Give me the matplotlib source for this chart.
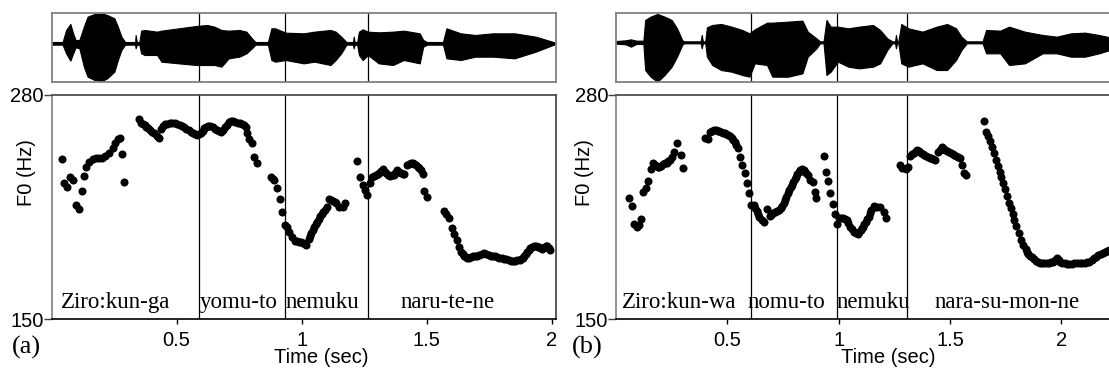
import matplotlib
matplotlib.use("Agg")
import matplotlib.pyplot as plt

# ---------------- data: panel (a) ----------------
f0_time_a = [0.041, 0.051, 0.061, 0.072, 0.084, 0.098, 0.111, 0.121, 0.131, 0.139, 0.151, 0.165,
             0.179, 0.190, 0.201, 0.215, 0.229, 0.244, 0.255, 0.265, 0.272, 0.282, 0.291,
             0.351, 0.358, 0.365, 0.372, 0.379, 0.386, 0.394, 0.402, 0.411, 0.420, 0.429, 0.439,
             0.446, 0.454, 0.463, 0.472, 0.483, 0.494, 0.503, 0.512, 0.520, 0.529, 0.538, 0.548,
             0.556, 0.565, 0.574, 0.582, 0.590, 0.598, 0.604, 0.611, 0.618, 0.625, 0.634, 0.644,
             0.653, 0.662, 0.670, 0.679, 0.686, 0.694, 0.702, 0.711, 0.718, 0.725, 0.734, 0.744,
             0.753, 0.762, 0.769, 0.776, 0.782, 0.789, 0.801, 0.811, 0.822,
             0.876, 0.884, 0.891, 0.901, 0.912, 0.922, 0.932, 0.941, 0.951, 0.962, 0.974, 0.981,
             0.988, 0.996, 1.005, 1.012, 1.019, 1.028, 1.034, 1.039, 1.045, 1.051, 1.057, 1.062,
             1.069, 1.075, 1.081, 1.086, 1.094, 1.101, 1.111, 1.118, 1.125, 1.132, 1.139, 1.151,
             1.165, 1.174,
             1.222, 1.234, 1.244, 1.254, 1.262, 1.272, 1.282, 1.289, 1.296, 1.304, 1.311, 1.318,
             1.325, 1.332, 1.339, 1.346, 1.354, 1.361, 1.368, 1.375, 1.382, 1.389, 1.396, 1.404,
             1.411, 1.422, 1.429, 1.436, 1.444, 1.451, 1.458, 1.465, 1.471, 1.476, 1.484, 1.491,
             1.501,
             1.569, 1.579, 1.591, 1.601, 1.611, 1.622, 1.631, 1.639, 1.645, 1.651, 1.656, 1.662,
             1.669, 1.676, 1.685, 1.694, 1.702, 1.711, 1.720, 1.729, 1.738, 1.748, 1.756, 1.765,
             1.773, 1.782, 1.791, 1.801, 1.810, 1.819, 1.828, 1.836, 1.845, 1.854, 1.863, 1.872,
             1.879, 1.886, 1.891, 1.896, 1.902, 1.908, 1.915, 1.922, 1.929, 1.936, 1.944, 1.951,
             1.957, 1.962, 1.967, 1.972, 1.977, 1.982, 1.988, 1.994]
f0_hz_a = [242.8, 228.7, 226.4, 232.2, 230.7, 216.1, 213.6, 224.5, 233.0, 238.0, 241.3, 242.8,
           243.2, 243.3, 243.2, 244.6, 246.5, 249.0, 251.9, 254.3, 255.2, 245.6, 229.5,
           265.9, 264.0, 263.0, 262.3, 261.6, 260.7, 259.7, 258.7, 257.7, 256.3, 254.8, 260.1,
           261.8, 263.0, 263.4, 263.6, 263.6, 263.6, 263.2, 262.6, 262.0, 261.2, 260.5, 259.7,
           258.7, 257.7, 257.2, 256.8, 257.1, 257.7, 259.0, 260.6, 261.3, 262.0, 261.8, 261.2,
           260.4, 259.7, 259.2, 258.7, 259.9, 261.2, 262.8, 264.3, 264.8, 265.1, 264.6, 263.9,
           263.5, 263.2, 262.4, 261.6, 257.7, 254.3, 251.9, 244.2, 240.7,
           232.2, 231.5, 230.7, 225.8, 219.4, 212.3, 204.5, 203.2, 200.7, 197.8, 195.4, 195.1,
           194.9, 194.4, 193.9, 193.4, 192.9, 196.2, 198.0, 199.7, 201.6, 203.6, 205.0, 206.5,
           208.2, 209.8, 211.0, 212.3, 213.5, 214.8, 219.4, 219.0, 218.5, 217.8, 217.1, 215.2,
           214.8, 217.1,
           241.9, 232.2, 227.8, 224.9, 221.9, 228.7, 232.2, 232.9, 233.6, 234.2, 234.9, 235.8,
           236.8, 235.6, 234.5, 233.7, 233.0, 233.3, 233.6, 235.0, 236.5, 235.5, 234.5, 234.3,
           234.1, 239.4, 240.1, 240.7, 240.3, 239.9, 239.2, 238.4, 237.5, 236.5, 234.1, 224.5,
           220.6,
           212.9, 210.9, 208.4, 202.6, 199.3, 195.8, 192.0, 189.1, 187.8, 186.5, 185.8, 185.2,
           185.6, 186.1, 186.3, 186.5, 186.8, 187.1, 187.6, 188.1, 187.6, 187.1, 186.8, 186.5,
           186.3, 186.1, 185.6, 185.2, 184.9, 184.6, 184.2, 183.8, 183.8, 183.8, 184.0, 184.2,
           184.7, 185.2, 186.4, 187.7, 188.9, 190.0, 191.0, 192.0, 192.2, 192.3, 192.0, 191.6,
           191.0, 190.4, 191.2, 192.0, 192.2, 192.3, 191.2, 190.0]

# waveform envelope, panel (a) (arbitrary amplitude units)
wave_time_a = [0.000, 0.044, 0.058, 0.075, 0.086, 0.096, 0.111, 0.129, 0.144, 0.172, 0.201,
               0.222, 0.251, 0.265, 0.279, 0.294, 0.334, 0.336, 0.341, 0.351, 0.358, 0.372,
               0.422, 0.439, 0.508, 0.579, 0.622, 0.651, 0.679, 0.708, 0.751, 0.779, 0.801,
               0.815, 0.865, 0.879, 0.894, 0.936, 1.008, 1.051, 1.115, 1.136, 1.158, 1.179,
               1.205, 1.208, 1.212, 1.222, 1.229, 1.244, 1.265, 1.308, 1.365, 1.408, 1.472,
               1.486, 1.501, 1.565, 1.579, 1.636, 1.694, 1.765, 1.851, 1.936, 2.015]
wave_top_a = [4, 4, 40, 58, 30, 10, 10, 50, 80, 88, 90,
              85, 75, 50, 20, 4, 4, 25, 4, 4, 38, 40,
              35, 38, 45, 52, 55, 50, 40, 38, 40, 35, 15,
              4, 4, 45, 45, 32, 30, 35, 40, 35, 20, 4,
              4, 20, 4, 4, 35, 42, 35, 33, 35, 38, 30,
              10, 4, 4, 45, 30, 25, 30, 30, 20, 2]
wave_bot_a = [-4, -4, -30, -52, -30, -12, -15, -70, -100, -110, -113,
              -105, -85, -50, -20, -4, -4, -15, -4, -4, -30, -35,
              -35, -55, -60, -65, -65, -65, -70, -45, -40, -30, -15,
              -4, -4, -50, -55, -50, -60, -55, -65, -50, -30, -4,
              -4, -15, -4, -4, -35, -50, -35, -60, -65, -50, -60,
              -10, -4, -4, -45, -50, -40, -40, -45, -25, -2]
bounds_a = [0.591, 0.932, 1.264]
labels_a = ["Ziro:kun-ga", "yomu-to", "nemuku", "naru-te-ne"]
label_x_a = [0.038, 0.594, 0.936, 1.394]

# ---------------- data: panel (b) ----------------
f0_time_b = [0.059, 0.070, 0.082, 0.093, 0.102, 0.112, 0.123, 0.134, 0.143, 0.155, 0.167, 0.175,
             0.182, 0.188, 0.194, 0.202, 0.210, 0.219, 0.228, 0.235, 0.242, 0.253, 0.262, 0.275,
             0.290, 0.302,
             0.400, 0.411, 0.424, 0.432, 0.440, 0.448, 0.456, 0.464, 0.472, 0.480, 0.488, 0.496,
             0.504, 0.512, 0.519, 0.527, 0.535, 0.541, 0.547, 0.556, 0.567, 0.578, 0.588, 0.597,
             0.607, 0.618, 0.625, 0.631, 0.637, 0.643, 0.654, 0.665, 0.677, 0.690, 0.698, 0.706,
             0.714, 0.722, 0.730, 0.739, 0.746, 0.754, 0.760, 0.765, 0.771, 0.778, 0.784, 0.789,
             0.796, 0.802, 0.808, 0.813, 0.820, 0.826, 0.832, 0.837, 0.843, 0.849, 0.855, 0.861,
             0.872, 0.885, 0.893, 0.900,
             0.932, 0.943, 0.951, 0.963, 0.973, 0.984, 0.992, 1.003, 1.011, 1.019, 1.027, 1.035,
             1.043, 1.051, 1.059, 1.067, 1.076, 1.086, 1.092, 1.098, 1.103, 1.108, 1.115, 1.122,
             1.128, 1.134, 1.140, 1.146, 1.157, 1.165, 1.173, 1.186, 1.202, 1.213,
             1.273, 1.286, 1.300, 1.313, 1.321, 1.329, 1.337, 1.345, 1.353, 1.361, 1.369, 1.377,
             1.384, 1.392, 1.400, 1.408, 1.416, 1.424, 1.432, 1.448, 1.455, 1.463, 1.471, 1.479,
             1.487, 1.495, 1.503, 1.511, 1.519, 1.527, 1.535, 1.543, 1.554, 1.564, 1.572,
             1.654, 1.662, 1.669, 1.681, 1.690, 1.698, 1.706, 1.714, 1.722, 1.730, 1.738, 1.746,
             1.754, 1.764, 1.773, 1.781, 1.789, 1.797, 1.808, 1.817, 1.829, 1.840, 1.846, 1.852,
             1.860, 1.868, 1.876, 1.884, 1.893, 1.903, 1.913, 1.924, 1.934, 1.944, 1.954, 1.963,
             1.971, 1.979, 1.987, 1.995, 2.004, 2.014, 2.024, 2.035, 2.046, 2.058, 2.070, 2.082,
             2.094, 2.106, 2.115, 2.125, 2.136, 2.146, 2.156, 2.166, 2.176, 2.186, 2.195, 2.205,
             2.214]
f0_hz_b = [220.0, 215.8, 205.1, 203.2, 204.5, 207.8, 223.9, 225.8, 230.3, 236.8, 240.3, 239.6,
           238.8, 238.4, 238.0, 238.9, 239.9, 240.3, 240.7, 241.5, 242.3, 244.2, 247.1, 251.9,
           245.2, 237.4,
           255.2, 254.3, 258.7, 259.2, 259.7, 259.5, 259.3, 259.0, 258.7, 258.2, 257.7, 257.2,
           256.8, 256.0, 255.2, 254.0, 252.9, 251.0, 249.0, 244.2, 239.4, 234.5, 229.1, 223.3,
           216.1, 216.1, 214.5, 212.9, 211.1, 209.4, 207.4, 206.5, 213.6, 209.8, 210.5, 211.3,
           212.1, 212.9, 213.5, 214.2, 215.6, 217.1, 219.0, 221.0, 223.0, 224.9, 226.4, 227.8,
           229.4, 231.0, 232.5, 234.1, 235.3, 236.5, 236.7, 236.8, 236.2, 235.5, 234.5, 233.6,
           230.7, 229.7, 223.9, 220.0,
           244.6, 235.5, 230.3, 223.3, 216.7, 210.9, 205.1, 208.4, 208.4, 208.4, 207.9, 207.4,
           205.5, 203.6, 202.2, 200.7, 200.0, 199.3, 200.5, 201.6, 202.6, 203.6, 205.0, 206.5,
           208.0, 209.4, 211.3, 213.2, 215.6, 215.2, 214.8, 215.2, 212.3, 208.4,
           239.4, 237.4, 236.8, 238.4, 244.6, 245.5, 246.5, 247.3, 248.1, 247.3, 246.5, 245.8,
           245.2, 244.7, 244.2, 243.7, 243.2, 242.8, 242.3, 247.1, 248.3, 249.6, 248.9, 248.1,
           247.6, 247.1, 246.4, 245.7, 245.2, 244.6, 243.9, 243.2, 239.4, 234.9, 233.6,
           265.1, 258.7, 256.2, 253.5, 249.6, 246.1, 242.3, 238.8, 235.5, 232.2, 228.7, 225.2,
           221.4, 217.5, 214.2, 210.9, 207.4, 204.0, 200.1, 195.8, 192.9, 190.4, 189.0, 187.7,
           186.7, 185.8, 184.8, 183.8, 183.0, 182.3, 182.3, 182.3, 182.5, 182.7, 183.0, 183.2,
           184.2, 185.2, 184.2, 183.2, 182.7, 182.3, 182.1, 181.9, 182.1, 182.3, 182.3, 182.3,
           182.5, 182.7, 183.0, 183.2, 184.2, 185.2, 186.2, 187.1, 187.8, 188.5, 189.1, 189.6,
           190.2]

wave_time_b = [0.000, 0.043, 0.067, 0.091, 0.123, 0.131, 0.155, 0.186, 0.218, 0.250, 0.274,
               0.297, 0.305, 0.380, 0.385, 0.390, 0.401, 0.408, 0.432, 0.472, 0.519, 0.567,
               0.599, 0.623, 0.678, 0.702, 0.773, 0.837, 0.861, 0.900, 0.916, 0.932, 0.945,
               0.964, 0.996, 1.043, 1.091, 1.154, 1.186, 1.218, 1.241, 1.253, 1.257, 1.262,
               1.268, 1.281, 1.313, 1.376, 1.440, 1.487, 1.527, 1.551, 1.575, 1.646, 1.662,
               1.725, 1.765, 1.836, 1.916, 1.979, 2.043, 2.106, 2.169, 2.217, 2.290]
wave_top_b = [4, 6, 9, 5, 5, 67, 77, 85, 77, 67, 42,
              7, 3, 3, 22, 3, 3, 45, 52, 55, 47, 37,
              27, 39, 59, 59, 62, 65, 32, 12, 3, 3, 67,
              47, 47, 42, 47, 52, 37, 12, 3, 3, 22, 3,
              3, 55, 42, 32, 47, 55, 42, 17, 3, 3, 37,
              35, 47, 32, 22, 17, 27, 29, 22, 15, 2]
wave_bot_b = [-4, -6, -13, -5, -5, -83, -103, -118, -98, -73, -43,
              -8, -3, -3, -18, -3, -3, -43, -68, -83, -88, -98,
              -103, -63, -68, -103, -103, -93, -43, -18, -3, -3, -98,
              -88, -58, -73, -78, -73, -63, -23, -3, -3, -18, -3,
              -3, -63, -73, -63, -83, -83, -53, -23, -3, -3, -33,
              -33, -68, -63, -33, -33, -43, -43, -33, -23, -2]
bounds_b = [0.608, 0.994, 1.308]
labels_b = ["Ziro:kun-wa", "nomu-to", "nemuku", "nara-su-mon-ne"]
label_x_b = [0.027, 0.591, 0.988, 1.432]

xticks = [0.5, 1, 1.5, 2]
xtick_labels = ["0.5", "1", "1.5", "2"]
yticks = [150, 280]
f0_range = (150, 280)

# ---------------- figure ----------------
W, H = 1109, 371
fig = plt.figure(figsize=(W / 100, H / 100), dpi=100)

sans = "Liberation Sans"
serif = "Liberation Serif"
GREY = "#808080"
FS_SANS = 14.5
FS_SERIF = 16.5


def px_axes(left, right, top, bottom):
    return fig.add_axes([left / W, 1 - bottom / H, (right - left) / W, (bottom - top) / H])


def panel(left, right, xmax, wt, wtop, wbot, wylim, ft, fhz, bounds, labels, lab_x,
          tag, tag_x, ylabel_dx, xlabel_t):
    # waveform
    axw = px_axes(left, right, 13.3, 81.7)
    axw.fill_between(wt, wbot, wtop, color="black", linewidth=0.8, edgecolor="black")
    axw.set_xlim(0, xmax)
    axw.set_ylim(*wylim)
    axw.set_xticks([])
    axw.set_yticks([])
    for s in axw.spines.values():
        s.set_color(GREY)
        s.set_linewidth(1.3)
    for b in bounds:
        axw.axvline(b, color="black", linewidth=0.9)

    # F0
    ax = px_axes(left, right, 95, 319)
    ax.plot(ft, fhz, "o", color="black", markersize=5.8, markeredgewidth=0)
    ax.set_xlim(0, xmax)
    ax.set_ylim(*f0_range)
    for b in bounds:
        ax.axvline(b, color="black", linewidth=0.9)
    ax.spines["left"].set_color(GREY)
    ax.spines["right"].set_color("#404040")
    ax.spines["top"].set_color("#404040")
    ax.spines["bottom"].set_color("black")
    for s in ax.spines.values():
        s.set_linewidth(1.2)
    ax.set_yticks(yticks)
    ax.set_yticklabels([str(v) for v in yticks], fontfamily=sans, fontsize=FS_SANS)
    ax.tick_params(axis="y", direction="out", length=5.5, width=1.0, pad=0, color="#404040")
    ax.set_xticks(xticks)
    ax.set_xticklabels(xtick_labels, fontfamily=sans, fontsize=FS_SANS)
    ax.tick_params(axis="x", direction="out", length=3.6, width=1.0, pad=5)
    ax.text(xlabel_t / xmax, -0.172, "Time (sec)",
            transform=ax.transAxes, ha="center", va="center", fontfamily=sans, fontsize=FS_SANS)
    ax.text(ylabel_dx, 0.652, "F0 (Hz)", transform=ax.transAxes, rotation=90,
            ha="center", va="center", fontfamily=sans, fontsize=FS_SANS)
    for lx, lab in zip(lab_x, labels):
        ax.text(lx, 156.4, lab, ha="left", va="baseline", fontfamily=serif, fontsize=FS_SERIF)
    fig.text(tag_x / W, 1 - 347 / H, tag, ha="left", va="center",
             fontfamily=serif, fontsize=19)


panel(51.6, 556, 2.017, wave_time_a, wave_top_a, wave_bot_a, (-115, 90),
      f0_time_a, f0_hz_a, bounds_a, labels_a, label_x_a, "(a)", 12, -0.049, 1.078)
panel(616, 1126, 2.29, wave_time_b, wave_top_b, wave_bot_b, (-118, 87),
      f0_time_b, f0_hz_b, bounds_b, labels_b, label_x_b, "(b)", 572, -0.061, 1.221)

fig.savefig("out.png", dpi=100)
